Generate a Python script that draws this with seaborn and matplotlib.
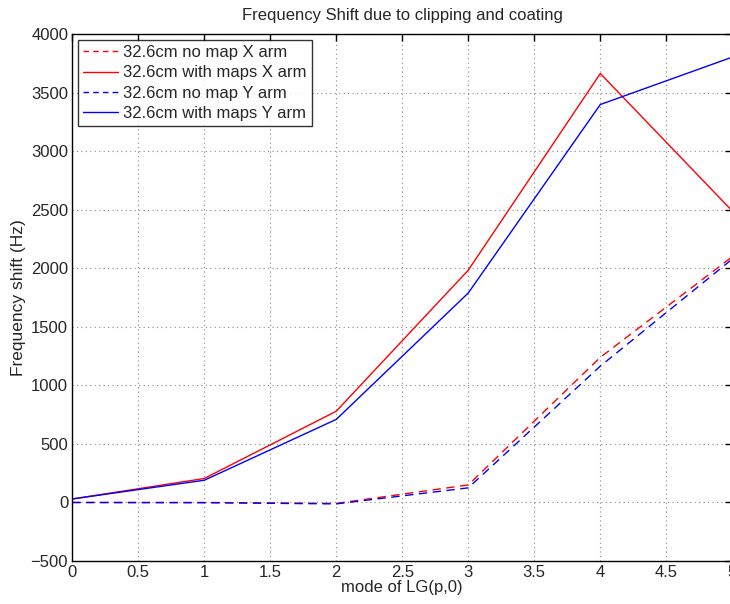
import matplotlib
matplotlib.use("Agg")
import matplotlib.pyplot as plt
import seaborn as sns
import pandas as pd

modes = [0, 1, 2, 3, 4, 5]
x_nomap = [0, 0, -8, 150, 1240, 2100]
x_maps = [30, 205, 780, 1985, 3665, 2490]
y_nomap = [0, -2, -12, 125, 1165, 2080]
y_maps = [30, 190, 710, 1790, 3400, 3805]

labels = ["32.6cm no map X arm", "32.6cm with maps X arm",
          "32.6cm no map Y arm", "32.6cm with maps Y arm"]
series = [x_nomap, x_maps, y_nomap, y_maps]
colors = ["#ff0000", "#ff0000", "#0000ff", "#0000ff"]
dashed = [True, False, True, False]

sns.set_style("white")
plt.rcParams['font.family'] = ['Liberation Sans', 'DejaVu Sans']

fig = plt.figure(figsize=(7.30, 6.04), dpi=100)
ax = fig.add_axes([72.3/730, 43/604, 660/730, (561-34.3)/604])

for lab, vals, c, d in zip(labels, series, colors, dashed):
    df = pd.DataFrame({"mode": modes, "shift": vals})
    sns.lineplot(data=df, x="mode", y="shift", ax=ax, color=c,
                 linewidth=1.0, label=lab)
    if d:
        ax.lines[-1].set_dashes((6, 4))

ax.set_xlim(0, 5)
ax.set_ylim(-500, 4000)
ax.set_xticks([0, 0.5, 1, 1.5, 2, 2.5, 3, 3.5, 4, 4.5, 5])
ax.set_xticklabels(["0", "0.5", "1", "1.5", "2", "2.5", "3", "3.5", "4", "4.5", "5"])
ax.set_yticks(range(-500, 4001, 500))
ax.set_yticklabels([u"\u2212500"] + [str(v) for v in range(0, 4001, 500)])
ax.grid(True, linestyle=(0, (1, 3)), color="#888888", linewidth=0.8)
ax.tick_params(direction="in", top=True, right=True, labelsize=12, length=5,
               width=1, color="black", pad=3)
for s in ax.spines.values():
    s.set_color("black")
    s.set_linewidth(1.0)
ax.set_xlabel("mode of LG(p,0)", fontsize=12, labelpad=0)
ax.set_ylabel("Frequency shift (Hz)", fontsize=12.5, labelpad=3)
ax.set_title("Frequency Shift due to clipping and coating", fontsize=12, pad=10)

leg = ax.legend(loc="upper left", fontsize=12, frameon=True, fancybox=False,
                edgecolor="black", borderpad=0.3, labelspacing=0.32,
                handlelength=2.1, handletextpad=0.3, borderaxespad=0.35)
leg.get_frame().set_linewidth(1.0)
for h, d in zip(leg.get_lines(), dashed):
    if d:
        h.set_dashes((4, 3))

fig.savefig("out.png", dpi=100)
